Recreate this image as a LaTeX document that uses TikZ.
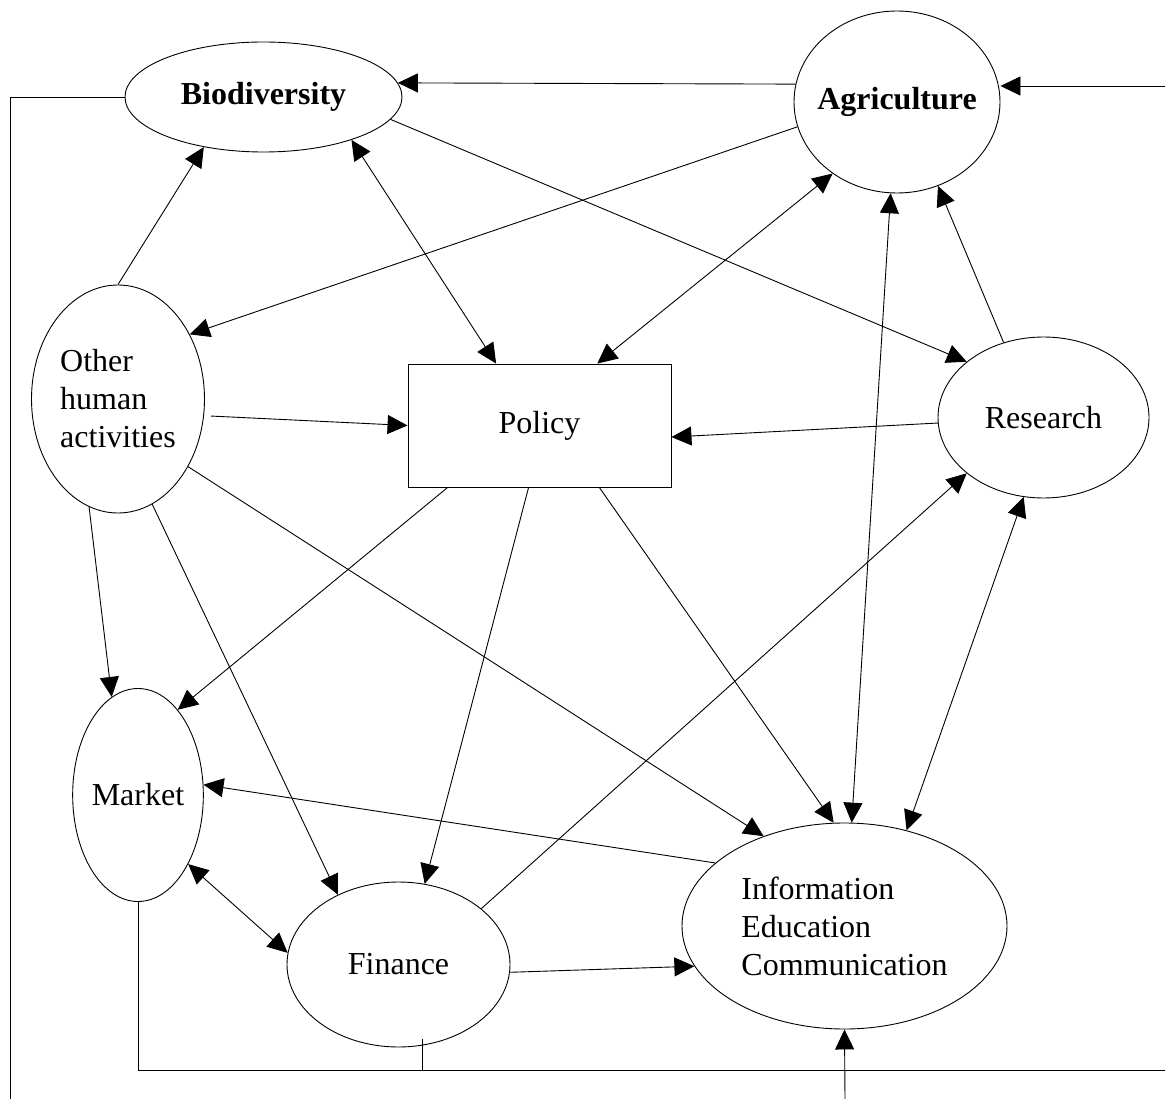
\documentclass[tikz,border=0pt]{standalone}
\usepackage{fontspec}
\setmainfont{Liberation Serif}
\usetikzlibrary{shapes.geometric,arrows.meta}

\begin{document}
\begin{tikzpicture}[x=1pt,y=-1pt,line width=0.9pt,
        font=\fontsize{32}{38}\selectfont,
        blob/.style={draw,ellipse,inner sep=0pt},
        box/.style={draw,rectangle,inner sep=0pt,minimum width=263pt,minimum height=123pt},
        arr/.style={-{Triangle[length=20pt,width=19pt]}},
        darr/.style={{Triangle[length=20pt,width=19pt]}-{Triangle[length=20pt,width=19pt]}}]
        \useasboundingbox (0,0) rectangle (1165,1099);
        % nodes
        \node[blob,minimum width=277pt,minimum height=110pt] (bio) at (263.5,97) {\bfseries Biodiversity};
        \node[blob,minimum width=206pt,minimum height=182pt,label=center:{\bfseries Agriculture}] (agri) at (897,102) {};
        \node[blob,minimum width=173pt,minimum height=228pt,align=left] (other) at (118,399) {Other\\human\\activities};
        \node[box] (policy) at (539.5,425.5) {Policy};
        \node[blob,minimum width=211pt,minimum height=161pt] (research) at (1043.5,417.5) {Research};
        \node[blob,minimum width=127pt,minimum height=213pt] (market) at (138,795) {Market};
        \node[blob,minimum width=223pt,minimum height=165pt] (finance) at (398.5,964.5) {Finance};
        \node[blob,minimum width=325pt,minimum height=206pt,align=left] (iec) at (844.5,926) {Information\\Education\\Communication};
        \coordinate (inR) at (1165,86);
        \coordinate (inB) at (845,1099);
        \coordinate (outL) at (10,1099);
        \coordinate (outR) at (1165,1070);
        \coordinate (jn) at (422,1070);
        % connectors
        \draw[arr] (agri.170) -- (bio.6);
        \draw[arr] (inR) -- (agri.east |- inR);
        \draw[arr] (bio.350) -- (research.144);
        \draw[darr] (bio.334) -- (policy.125);
        \draw[arr] (agri.194) -- (other.42);
        \draw[arr] (other.north) -- (bio.220);
        \draw[darr] (agri.228) -- (policy.47);
        \draw[darr] (agri.266) -- (iec.86);
        \draw[arr] (research.118) -- (agri.296);
        \draw[arr,shorten <=7pt] (other.349) -- (policy.west);
        \draw[arr] (research.183) -- (policy.355);
        \draw[darr] (research.256) -- (iec.57);
        \draw[arr] (other.255) -- (market.105);
        \draw[arr] (other.288) -- (finance.131);
        \draw[arr] (other.316) -- (iec.132);
        \draw[arr] (policy.214) -- (market.65);
        \draw[arr] (policy.260) -- (finance.72);
        \draw[arr] (policy.314) -- (iec.96);
        \draw[arr] (finance.34) -- (research.216);
        \draw[arr] (iec.154) -- (market.9);
        \draw[darr] (market.306) -- (finance.174);
        \draw[arr] (finance.356) -- (iec.195);
        \draw[arr] (inB) -- (iec.south);
        \draw (market.south) |- (jn) -- ++(0,-31);
        \draw (jn) -- (outR);
        \draw (bio.west) -| (outL);
\end{tikzpicture}
\end{document}
